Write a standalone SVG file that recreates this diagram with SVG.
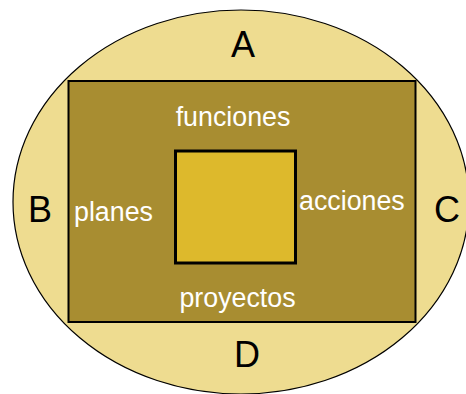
<svg xmlns="http://www.w3.org/2000/svg" width="466" height="394" viewBox="0 0 466 394">
<style>
.big{font-family:"Liberation Sans",Arial,sans-serif;font-size:36px;fill:#000}
.lbl{font-family:"Liberation Sans",Arial,sans-serif;font-size:26.8px;fill:#fff}
</style>
<rect width="466" height="394" fill="#fff"/>
<g id="outer">
<ellipse cx="241" cy="202" rx="228" ry="192" fill="#EEDC90" stroke="#000" stroke-width="1.2"/>
<text class="big" x="243" y="57" text-anchor="middle">A</text>
<text class="big" x="28" y="222">B</text>
<text class="big" x="434" y="222">C</text>
<text class="big" x="247" y="367" text-anchor="middle">D</text>
</g>
<g id="middle">
<rect x="68.5" y="81" width="347" height="241" fill="#A88D31" stroke="#000" stroke-width="2"/>
<text class="lbl" x="233" y="126" text-anchor="middle">funciones</text>
<text class="lbl" x="74" y="221">planes</text>
<text class="lbl" x="299" y="210">acciones</text>
<text class="lbl" x="237.5" y="307" text-anchor="middle">proyectos</text>
</g>
<g id="inner">
<rect x="175.5" y="151" width="120" height="112" fill="#DDB92C" stroke="#000" stroke-width="3"/>
</g>
<g id="connectors"/>
</svg>
